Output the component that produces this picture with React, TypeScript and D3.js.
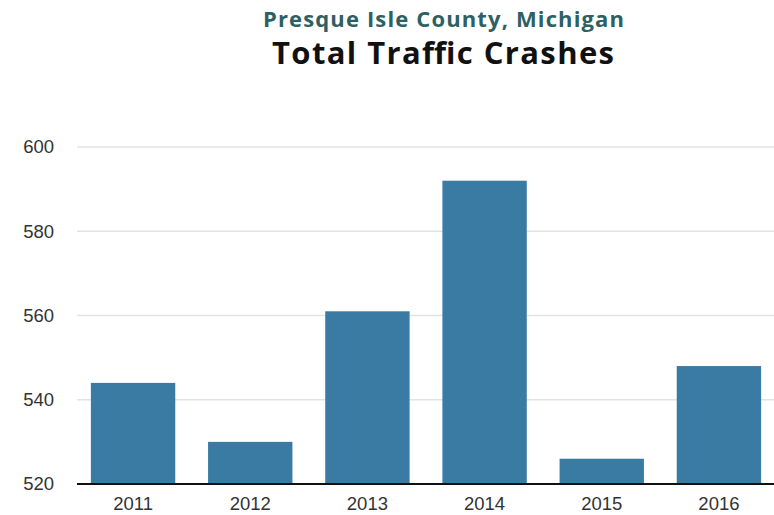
import React from "react";
import * as d3 from "d3";

const years = ["2011", "2012", "2013", "2014", "2015", "2016"];
const crashes = [544, 530, 561, 592, 526, 548];
const yTicks = [520, 540, 560, 580, 600];
const subtitle = "Presque Isle County, Michigan";
const title = "Total Traffic Crashes";

const W = 774;
const H = 515;

export default function App() {
  const x = d3.scaleBand<string>().domain(years).range([78, 774]).paddingInner(0.28).paddingOuter(0.11);
  const y = d3.scaleLinear().domain([520, 600]).range([484, 147]);
  const font = "'Liberation Sans', Arial, Helvetica, sans-serif";
  const tfont = "'Open Sans', Lato, sans-serif";
  return (
    <svg width={W} height={H} style={{ position: "absolute", left: 0, top: 0 }}>
      <rect width={W} height={H} fill="#fff" />
      <text x={263} y={27} textLength={361} lengthAdjust="spacing" fontFamily={tfont} fontWeight={700} fontSize={22} fill="#2e5f63">{subtitle}</text>
      <text x={272} y={64} textLength={342} lengthAdjust="spacing" fontFamily={tfont} fontWeight={700} fontSize={31} fill="#111">{title}</text>
      {yTicks.map((t) => (
        <g key={t}>
          {t !== 520 && <line x1={77} x2={W} y1={y(t)} y2={y(t)} stroke="#e3e3e3" strokeWidth={1.5} />}
          <text x={54} y={y(t)} dy="0.35em" textAnchor="end" fontFamily={font} fontSize={18.5} fill="#333">{t}</text>
        </g>
      ))}
      {years.map((yr, i) => (
        <rect key={yr} x={x(yr)} y={y(crashes[i])} width={x.bandwidth()} height={y(520) - y(crashes[i])} fill="#3a7ba3" />
      ))}
      <line x1={77} x2={W} y1={y(520)} y2={y(520)} stroke="#111" strokeWidth={2} />
      {years.map((yr) => (
        <text key={yr} x={(x(yr) as number) + x.bandwidth() / 2} y={504} dy="0.35em" textAnchor="middle" fontFamily={font} fontSize={18.5} fill="#333">{yr}</text>
      ))}
    </svg>
  );
}
